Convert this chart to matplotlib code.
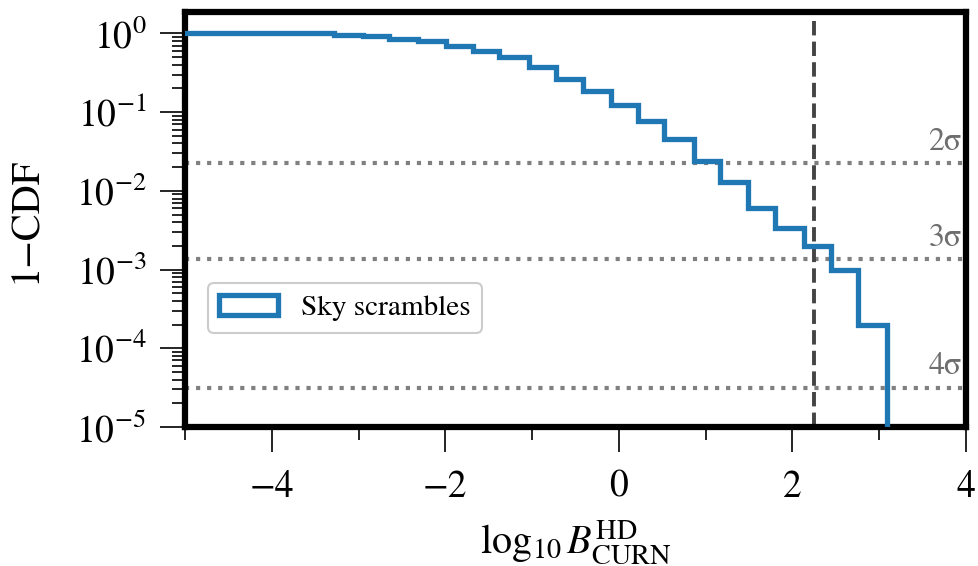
import matplotlib
matplotlib.use("Agg")
import matplotlib.pyplot as plt
import matplotlib.patches as mpatches
import matplotlib.transforms as mtransforms
from matplotlib.ticker import LogLocator, MultipleLocator, NullFormatter

# survival function of the sky-scramble statistic (1 - CDF per bin)
BIN_EDGES = [-5.3, -3.28, -2.95, -2.65, -2.31, -1.99, -1.68, -1.38, -1.04,
             -0.72, -0.41, -0.09, 0.22, 0.52, 0.86, 1.17, 1.49, 1.80,
             2.13, 2.44, 2.76, 3.09]
SURVIVAL = [1.0, 0.95, 0.93, 0.86, 0.80, 0.70, 0.59, 0.50, 0.37, 0.265,
            0.185, 0.125, 0.078, 0.045, 0.024, 0.0128, 0.0061, 0.0034,
            0.002, 0.001, 0.0002]

# one-sided gaussian tail probabilities
SIGMA_LABELS = ["2\u03c3", "3\u03c3", "4\u03c3"]
SIGMA_PVALUES = [2.275e-2, 1.35e-3, 3.167e-5]

# observed log10 Bayes factor
OBSERVED = 2.25

BLUE = "#1f77b4"

plt.rcParams.update({
    "font.family": ["STIXGeneral", "DejaVu Serif"],
    "mathtext.fontset": "stix",
    "axes.unicode_minus": True,
})

fig = plt.figure(figsize=(9.79, 5.66), dpi=100)
ax = fig.add_axes([0.189, 0.2456, 0.7977, 0.7334])

ax.stairs(SURVIVAL, BIN_EDGES, baseline=1e-8, color=BLUE, linewidth=3.8,
          zorder=3)

trans = mtransforms.blended_transform_factory(ax.transAxes, ax.transData)
for label, p in zip(SIGMA_LABELS, SIGMA_PVALUES):
    ax.axhline(p, color="#808080", linestyle=":", linewidth=3.0, zorder=2)
    ax.text(0.995, p * 1.2, label, transform=trans, ha="right", va="bottom",
            fontsize=23, color="#6e6e6e")

ax.axvline(OBSERVED, color="#444444", linestyle="--", linewidth=2.8, zorder=2)

ax.set_yscale("log")
ax.set_xlim(-5, 4)
ax.set_ylim(1e-5, 1.88)

ax.xaxis.set_major_locator(MultipleLocator(2))
ax.xaxis.set_minor_locator(MultipleLocator(1))
ax.yaxis.set_major_locator(LogLocator(base=10, numticks=10))
ax.yaxis.set_minor_locator(LogLocator(base=10, subs=range(2, 10), numticks=20))
ax.yaxis.set_minor_formatter(NullFormatter())

ax.tick_params(which="major", length=18, width=1.2, labelsize=27, pad=10,
               direction="out")
ax.tick_params(axis="x", which="major", pad=13)
ax.tick_params(which="minor", length=9.5, width=1.2, direction="out")

for side in ["top", "bottom", "left", "right"]:
    ax.spines[side].set_linewidth(4.5)
    ax.spines[side].set_color("black")

ax.set_xlabel(r"$\log_{10} B^{\rm HD}_{\rm CURN}$", fontsize=29, labelpad=10)
ax.set_ylabel("1\u2212CDF", fontsize=29, labelpad=22)

handle = mpatches.Patch(facecolor="white", edgecolor=BLUE, linewidth=3.8)
leg = ax.legend([handle], ["Sky scrambles"], loc="center left",
                bbox_to_anchor=(0.029, 0.287), borderaxespad=0,
                fontsize=21, handletextpad=0.8, fancybox=True,
                framealpha=1.0, edgecolor="#cccccc")
leg.get_frame().set_linewidth(1.5)

fig.savefig("out.png", dpi=100)
